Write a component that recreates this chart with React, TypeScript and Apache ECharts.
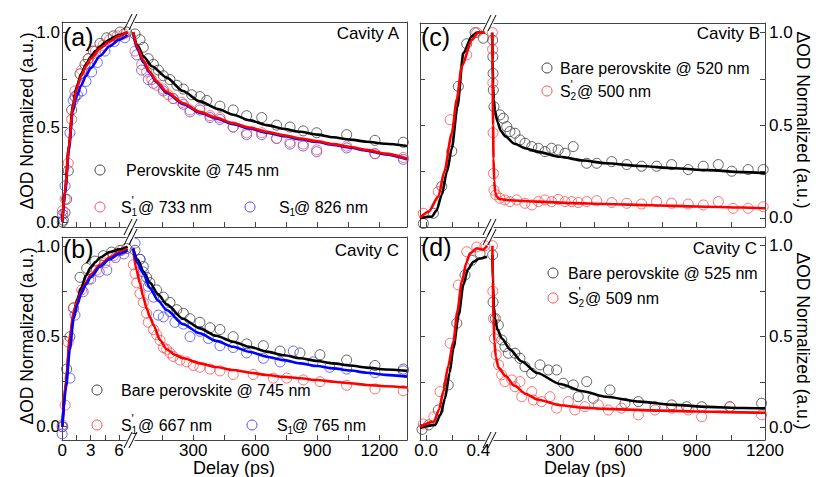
import React, { useEffect, useRef } from "react";
import * as echarts from "echarts";

const FONT = "'Liberation Sans', Arial, Helvetica, sans-serif";

// ---- tick values ----
const yTicks = [0, 0.25, 0.5, 0.75, 1.0];
const yLabels = [0, 0.5, 1.0];
const psRiseTicks = [0, 1.5, 3, 4.5, 6];
const psRiseLabels = [0, 3, 6];
const fsRiseTicks = [0, 0.2, 0.4];
const fsRiseLabels = [0, 0.4];
const decayTicks = [150, 300, 450, 600, 750, 900, 1050, 1200];
const decayLabels = [300, 600, 900, 1200];

// ---- Panel (a) Cavity A ----
const aBlackRise = [[0, 0], [0.11, 0.01], [0.29, 0.05], [0.46, 0.12], [0.63, 0.27], [0.99, 0.59], [1.34, 0.66], [1.87, 0.78], [2.4, 0.83], [2.75, 0.86], [3.27, 0.9], [3.98, 0.94], [4.69, 0.97], [5.39, 0.98], [6.1, 1.0], [6.8, 1.0]];
const aRedRise = [[0.02, 0.06], [0.3, 0.12], [0.63, 0.31], [0.99, 0.54], [1.34, 0.69], [2.05, 0.8], [2.75, 0.86], [3.5, 0.9], [4.3, 0.93], [5.0, 0.96], [5.8, 0.98], [6.5, 0.99]];
const aBlueRise = [[0.02, 0.04], [0.29, 0.19], [0.81, 0.47], [1.16, 0.64], [1.6, 0.67], [2.05, 0.69], [2.5, 0.74], [3.1, 0.79], [3.7, 0.84], [4.5, 0.9], [5.5, 0.95], [6.6, 0.97]];
const aBlackRiseFit = [[0, 0], [0.3, 0.17], [0.7, 0.4], [1.1, 0.61], [1.5, 0.71], [2, 0.78], [2.5, 0.83], [3, 0.87], [3.5, 0.9], [4, 0.925], [4.5, 0.945], [5, 0.96], [5.5, 0.975], [6, 0.985], [6.9, 1.0]];
const aRedRiseFit = [[0, 0], [0.3, 0.17], [0.7, 0.4], [1.1, 0.6], [1.5, 0.7], [2, 0.77], [2.5, 0.82], [3, 0.86], [4, 0.915], [5, 0.95], [6, 0.98], [6.9, 1.0]];
const aBlueRiseFit = [[0, 0], [0.3, 0.15], [0.7, 0.38], [1.1, 0.58], [1.5, 0.66], [2, 0.72], [2.5, 0.77], [3, 0.81], [4, 0.875], [5, 0.925], [6, 0.96], [6.9, 0.985]];
const aBlackDecay = [[18, 0.99], [42, 0.96], [58, 0.92], [82, 0.86], [107, 0.83], [131, 0.8], [155, 0.77], [187, 0.75], [220, 0.72], [252, 0.7], [292, 0.67], [332, 0.66], [365, 0.64], [429, 0.61], [493, 0.59], [558, 0.56], [631, 0.55], [703, 0.51], [768, 0.5], [832, 0.48], [897, 0.47], [1042, 0.46], [1179, 0.43], [1316, 0.42]];
const aRedDecay = [[18, 0.9], [50, 0.83], [74, 0.79], [99, 0.75], [123, 0.72], [155, 0.7], [179, 0.67], [203, 0.65], [244, 0.63], [284, 0.59], [332, 0.6], [381, 0.56], [429, 0.55], [493, 0.5], [558, 0.47], [631, 0.47], [703, 0.44], [768, 0.42], [832, 0.41], [897, 0.38], [1042, 0.4], [1179, 0.36], [1316, 0.34]];
const aBlueDecay = [[26, 0.88], [50, 0.8], [82, 0.75], [107, 0.73], [155, 0.69], [203, 0.65], [252, 0.62], [284, 0.58], [332, 0.59], [381, 0.55], [429, 0.54], [493, 0.5], [558, 0.46], [631, 0.46], [703, 0.44], [768, 0.41], [832, 0.4], [897, 0.37], [1042, 0.39], [1179, 0.36], [1316, 0.33]];
const aBlackDecayFit = [[9, 1.0], [30, 0.93], [60, 0.87], [100, 0.82], [171, 0.76], [250, 0.69], [332, 0.635], [420, 0.595], [493, 0.565], [575, 0.535], [655, 0.51], [740, 0.49], [816, 0.475], [900, 0.46], [977, 0.446], [1060, 0.434], [1138, 0.423], [1230, 0.412], [1334, 0.4]];
const aRedDecayFit = [[9, 1.0], [30, 0.92], [58, 0.85], [90, 0.79], [122, 0.74], [171, 0.686], [252, 0.625], [332, 0.58], [410, 0.55], [493, 0.52], [575, 0.497], [655, 0.475], [740, 0.457], [816, 0.44], [900, 0.425], [977, 0.41], [1060, 0.395], [1138, 0.38], [1230, 0.36], [1334, 0.335]];
const aBlueDecayFit = [[9, 0.99], [30, 0.91], [58, 0.84], [90, 0.785], [122, 0.735], [171, 0.68], [252, 0.62], [332, 0.575], [410, 0.545], [493, 0.515], [575, 0.492], [655, 0.47], [740, 0.452], [816, 0.436], [900, 0.421], [977, 0.406], [1060, 0.391], [1138, 0.376], [1230, 0.356], [1334, 0.33]];

// ---- Panel (b) Cavity C ----
const bBlackRise = [[-0.02, 0.0], [0.46, 0.32], [0.8, 0.5], [1.2, 0.66], [1.87, 0.83], [2.57, 0.88], [3.45, 0.92], [4.33, 0.95], [5.2, 0.97], [6.1, 0.98], [6.8, 0.99]];
const bRedRise = [[0.0, 0.01], [0.3, 0.12], [0.63, 0.47], [1.16, 0.66], [2.05, 0.76], [2.8, 0.82], [3.6, 0.87], [4.5, 0.91], [5.4, 0.95], [6.3, 0.98]];
const bBlueRise = [[-0.02, -0.04], [0.05, 0.0], [0.81, 0.27], [1.34, 0.62], [2.2, 0.75], [3.0, 0.82], [3.9, 0.86], [4.7, 0.87], [5.6, 0.94], [6.5, 0.96]];
const bBlackRiseFit = [[0, 0], [0.4, 0.25], [0.8, 0.48], [1.2, 0.63], [1.6, 0.71], [2, 0.77], [2.5, 0.84], [3, 0.885], [3.5, 0.915], [4, 0.94], [5, 0.97], [6, 0.985], [6.9, 1.0]];
const bRedRiseFit = [[0, 0], [0.4, 0.26], [0.8, 0.5], [1.2, 0.64], [1.6, 0.7], [2, 0.75], [2.5, 0.8], [3, 0.845], [4, 0.9], [5, 0.94], [6, 0.97], [6.9, 0.99]];
const bBlueRiseFit = [[0, 0], [0.4, 0.22], [0.8, 0.43], [1.2, 0.6], [1.6, 0.68], [2, 0.74], [2.5, 0.79], [3, 0.83], [4, 0.89], [5, 0.93], [6, 0.96], [6.9, 0.98]];
const bBlackDecay = [[18, 0.98], [42, 0.93], [58, 0.89], [74, 0.83], [90, 0.8], [122, 0.76], [155, 0.72], [187, 0.69], [220, 0.65], [252, 0.63], [284, 0.6], [332, 0.58], [381, 0.55], [429, 0.54], [493, 0.5], [558, 0.46], [639, 0.45], [720, 0.42], [816, 0.41], [913, 0.4], [1042, 0.37], [1179, 0.34], [1316, 0.32]];
const bBlueDecay = [[18, 1.02], [42, 0.93], [58, 0.86], [82, 0.78], [107, 0.72], [131, 0.62], [155, 0.61], [187, 0.64], [211, 0.58], [252, 0.57], [284, 0.5], [332, 0.53], [373, 0.49], [429, 0.45], [493, 0.44], [558, 0.41], [639, 0.38], [720, 0.36], [784, 0.42], [880, 0.36], [960, 0.33], [1042, 0.32], [1179, 0.3], [1316, 0.31]];
const bRedDecay = [[10, 0.9], [18, 0.85], [26, 0.8], [42, 0.74], [58, 0.69], [74, 0.63], [82, 0.58], [107, 0.54], [123, 0.51], [139, 0.48], [155, 0.44], [171, 0.43], [187, 0.41], [203, 0.39], [236, 0.37], [268, 0.36], [300, 0.34], [332, 0.33], [381, 0.32], [429, 0.31], [493, 0.29], [590, 0.29], [687, 0.27], [752, 0.27], [832, 0.26], [913, 0.25], [1042, 0.23], [1179, 0.21], [1316, 0.2]];
const bBlackDecayFit = [[9, 0.99], [30, 0.93], [60, 0.86], [90, 0.8], [130, 0.735], [171, 0.68], [250, 0.6], [332, 0.546], [410, 0.505], [493, 0.472], [575, 0.443], [655, 0.417], [740, 0.397], [816, 0.38], [900, 0.365], [977, 0.352], [1060, 0.34], [1138, 0.328], [1230, 0.318], [1334, 0.31]];
const bBlueDecayFit = [[9, 0.99], [30, 0.91], [58, 0.852], [90, 0.77], [130, 0.7], [171, 0.648], [250, 0.57], [332, 0.519], [410, 0.477], [493, 0.444], [575, 0.415], [655, 0.389], [740, 0.37], [816, 0.352], [900, 0.337], [977, 0.324], [1060, 0.312], [1138, 0.3], [1230, 0.288], [1334, 0.278]];
const bRedDecayFit = [[9, 0.99], [25, 0.87], [42, 0.796], [58, 0.72], [74, 0.658], [90, 0.61], [107, 0.565], [139, 0.482], [171, 0.43], [210, 0.4], [252, 0.38], [332, 0.352], [410, 0.332], [493, 0.315], [575, 0.3], [655, 0.287], [740, 0.277], [816, 0.269], [900, 0.259], [977, 0.25], [1060, 0.241], [1138, 0.232], [1230, 0.225], [1334, 0.218]];

// ---- Panel (c) Cavity B ----
const cBlackRise = [[-0.02, -0.03], [0.056, 0.025], [0.12, 0.17], [0.197, 0.36], [0.247, 0.71], [0.311, 0.94], [0.375, 1.0], [0.438, 0.97]];
const cRedRise = [[-0.02, 0.025], [0.094, 0.142], [0.184, 0.53], [0.311, 0.88], [0.388, 1.0]];
const cBlackRiseFit = [[-0.046, 0.0], [0.044, 0.007], [0.08, 0.04], [0.12, 0.124], [0.16, 0.25], [0.197, 0.376], [0.24, 0.6], [0.285, 0.889], [0.35, 0.98], [0.388, 1.0], [0.44, 1.0]];
const cRedRiseFit = [[-0.046, 0.0], [0.02, 0.034], [0.094, 0.115], [0.14, 0.25], [0.197, 0.457], [0.235, 0.64], [0.273, 0.817], [0.35, 0.961], [0.4, 1.0], [0.45, 1.0]];
const cBlackDecay = [[4, 0.96], [5, 0.87], [6, 0.78], [7, 0.69], [10, 0.6], [36, 0.556], [51, 0.538], [66, 0.493], [80, 0.466], [102, 0.457], [124, 0.421], [146, 0.403], [176, 0.385], [205, 0.376], [234, 0.358], [263, 0.376], [292, 0.367], [322, 0.349], [358, 0.385], [417, 0.295], [461, 0.295], [527, 0.304], [593, 0.288], [658, 0.279], [724, 0.279], [790, 0.288], [863, 0.261], [929, 0.279], [995, 0.288], [1054, 0.252], [1126, 0.261], [1192, 0.261]];
const cRedDecay = [[3, 1.0], [4, 0.91], [5, 0.73], [6, 0.46], [8, 0.24], [10, 0.15], [18, 0.125], [36, 0.106], [58, 0.097], [80, 0.088], [110, 0.097], [146, 0.079], [176, 0.07], [205, 0.088], [234, 0.097], [263, 0.088], [292, 0.1], [322, 0.088], [351, 0.088], [380, 0.083], [417, 0.088], [461, 0.093], [527, 0.083], [593, 0.079], [658, 0.075], [724, 0.088], [790, 0.079], [863, 0.075], [929, 0.07], [995, 0.088], [1060, 0.052], [1126, 0.052], [1192, 0.06]];
const cBlackDecayFit = [[2, 1.0], [4, 0.85], [6, 0.72], [9, 0.64], [14, 0.58], [25, 0.52], [40, 0.47], [60, 0.44], [100, 0.4], [150, 0.375], [200, 0.358], [300, 0.33], [400, 0.31], [500, 0.295], [650, 0.28], [800, 0.268], [950, 0.258], [1100, 0.247], [1200, 0.241]];
const cRedDecayFit = [[2, 1.0], [4, 0.75], [6, 0.5], [8, 0.32], [11, 0.2], [15, 0.14], [22, 0.115], [35, 0.102], [80, 0.095], [200, 0.088], [350, 0.08], [500, 0.075], [700, 0.068], [900, 0.062], [1100, 0.056], [1200, 0.052]];

// ---- Panel (d) Cavity C ----
const dBlackRise = [[-0.03, -0.01], [0.02, 0.015], [0.094, 0.097], [0.17, 0.235], [0.235, 0.574], [0.298, 0.839], [0.35, 0.92], [0.413, 0.958]];
const dRedRise = [[-0.02, 0.02], [0.06, 0.06], [0.107, 0.198], [0.184, 0.464], [0.247, 0.784], [0.311, 0.967], [0.388, 0.993], [0.45, 1.0]];
const dBlackRiseFit = [[-0.046, 0.0], [0.069, 0.015], [0.11, 0.07], [0.145, 0.16], [0.18, 0.3], [0.209, 0.436], [0.25, 0.62], [0.285, 0.784], [0.32, 0.87], [0.362, 0.912], [0.41, 0.93], [0.465, 0.94]];
const dRedRiseFit = [[-0.046, 0.005], [0.06, 0.033], [0.1, 0.1], [0.132, 0.198], [0.17, 0.34], [0.209, 0.473], [0.24, 0.64], [0.273, 0.802], [0.31, 0.91], [0.336, 0.958], [0.388, 0.986], [0.435, 0.978], [0.465, 1.0]];
const dBlackDecay = [[4, 0.95], [6, 0.69], [16, 0.6], [29, 0.564], [44, 0.482], [58, 0.445], [73, 0.409], [102, 0.409], [124, 0.381], [146, 0.335], [176, 0.299], [212, 0.345], [249, 0.317], [285, 0.317], [314, 0.244], [358, 0.235], [380, 0.17], [417, 0.253], [446, 0.161], [519, 0.207], [585, 0.134], [644, 0.143], [717, 0.115], [790, 0.125], [856, 0.115], [922, 0.115], [1046, 0.115], [1185, 0.134]];
const dRedDecay = [[3, 1.0], [5, 0.75], [8, 0.6], [12, 0.49], [20, 0.4], [30, 0.345], [44, 0.29], [58, 0.253], [88, 0.262], [102, 0.225], [124, 0.253], [132, 0.17], [176, 0.198], [183, 0.152], [219, 0.143], [256, 0.17], [285, 0.107], [336, 0.143], [365, 0.097], [409, 0.115], [468, 0.125], [512, 0.097], [570, 0.107], [644, 0.07], [717, 0.097], [790, 0.107], [863, 0.097], [922, 0.06], [1046, 0.115], [1185, 0.07]];
const dBlackDecayFit = [[3, 0.95], [6, 0.78], [10, 0.66], [15, 0.6], [25, 0.54], [45, 0.49], [80, 0.43], [130, 0.365], [200, 0.3], [300, 0.24], [400, 0.2], [500, 0.17], [650, 0.143], [800, 0.125], [950, 0.114], [1100, 0.108], [1200, 0.106]];
const dRedDecayFit = [[3, 1.0], [5, 0.8], [8, 0.6], [12, 0.47], [18, 0.39], [30, 0.33], [60, 0.285], [100, 0.23], [150, 0.185], [200, 0.155], [300, 0.123], [400, 0.11], [500, 0.103], [700, 0.095], [900, 0.089], [1100, 0.084], [1200, 0.082]];

// ---- styling ----
const AX = "#444444";
const LINE_COL: Record<string, string> = { black: "#000000", red: "#ff0000", blue: "#0000ff" };
const DOT_COL: Record<string, string> = { black: "#3c3c3c", red: "#ff4a4a", blue: "#4646ff" };

type Trace = { c: string; rise: number[][]; decay: number[][]; riseFit: number[][]; decayFit: number[][] };

const panels = [
  {
    top: 22, height: 205, left: 62, lw: 66, rl: 133, rw: 274,
    xL: [-0.03, 6.94], xR: [8.2, 1334], y: [-0.026, 1.053],
    ticksL: psRiseTicks, labelsL: psRiseLabels, fmtL: (v: number) => String(v),
    showX: false, labelsOnLeft: true,
    traces: [
      { c: "black", rise: aBlackRise, decay: aBlackDecay, riseFit: aBlackRiseFit, decayFit: aBlackDecayFit },
      { c: "blue", rise: aBlueRise, decay: aBlueDecay, riseFit: aBlueRiseFit, decayFit: aBlueDecayFit },
      { c: "red", rise: aRedRise, decay: aRedDecay, riseFit: aRedRiseFit, decayFit: aRedDecayFit },
    ] as Trace[],
  },
  {
    top: 237, height: 203, left: 62, lw: 66, rl: 133, rw: 274,
    xL: [-0.03, 6.94], xR: [8.2, 1334], y: [-0.074, 1.054],
    ticksL: psRiseTicks, labelsL: psRiseLabels, fmtL: (v: number) => String(v),
    showX: true, labelsOnLeft: true,
    traces: [
      { c: "black", rise: bBlackRise, decay: bBlackDecay, riseFit: bBlackRiseFit, decayFit: bBlackDecayFit },
      { c: "red", rise: bRedRise, decay: bRedDecay, riseFit: bRedRiseFit, decayFit: bRedDecayFit },
      { c: "blue", rise: bBlueRise, decay: bBlueDecay, riseFit: bBlueRiseFit, decayFit: bBlueDecayFit },
    ] as Trace[],
  },
  {
    top: 23, height: 204, left: 420, lw: 67, rl: 492, rw: 273,
    xL: [-0.046, 0.466], xR: [1.3, 1200], y: [-0.049, 1.052],
    ticksL: fsRiseTicks, labelsL: fsRiseLabels, fmtL: (v: number) => v.toFixed(1),
    showX: false, labelsOnLeft: false,
    traces: [
      { c: "black", rise: cBlackRise, decay: cBlackDecay, riseFit: cBlackRiseFit, decayFit: cBlackDecayFit },
      { c: "red", rise: cRedRise, decay: cRedDecay, riseFit: cRedRiseFit, decayFit: cRedDecayFit },
    ] as Trace[],
  },
  {
    top: 237, height: 203, left: 420, lw: 67, rl: 492, rw: 273,
    xL: [-0.046, 0.466], xR: [1.3, 1200], y: [-0.068, 1.048],
    ticksL: fsRiseTicks, labelsL: fsRiseLabels, fmtL: (v: number) => v.toFixed(1),
    showX: true, labelsOnLeft: false,
    traces: [
      { c: "black", rise: dBlackRise, decay: dBlackDecay, riseFit: dBlackRiseFit, decayFit: dBlackDecayFit },
      { c: "red", rise: dRedRise, decay: dRedDecay, riseFit: dRedRiseFit, decayFit: dRedDecayFit },
    ] as Trace[],
  },
];

const labelStyle = { fontSize: 17, lineHeight: 16, fontFamily: FONT, color: "#000" };

function buildOption() {
  const grid: any[] = [];
  const xAxis: any[] = [];
  const yAxis: any[] = [];
  const series: any[] = [];
  const graphic: any[] = [];

  panels.forEach((p) => {
    const segs = [
      { left: p.left, width: p.lw, x: p.xL, ticks: p.ticksL, labels: p.labelsL, fmt: p.fmtL, side: "left", isRise: true },
      { left: p.rl, width: p.rw, x: p.xR, ticks: decayTicks, labels: decayLabels, fmt: (v: number) => String(v), side: "right", isRise: false },
    ];
    segs.forEach((s) => {
      const g = grid.length;
      grid.push({ left: s.left, top: p.top, width: s.width, height: p.height, containLabel: false });
      const xi = xAxis.length;
      xAxis.push({
        type: "value", gridIndex: g, min: s.x[0], max: s.x[1], position: "bottom",
        axisLine: { show: true, onZero: false, lineStyle: { color: AX, width: 1 } },
        axisTick: { show: true, inside: true, length: 5, customValues: s.ticks, lineStyle: { color: AX } },
        axisLabel: { show: p.showX, customValues: s.labels, formatter: s.fmt, margin: 2, ...labelStyle },
        splitLine: { show: false },
      });
      xAxis.push({
        type: "value", gridIndex: g, min: s.x[0], max: s.x[1], position: "top",
        axisLine: { show: true, onZero: false, lineStyle: { color: AX, width: 1 } },
        axisTick: { show: false }, axisLabel: { show: false }, splitLine: { show: false },
      });
      const yi = yAxis.length;
      const showLabels = (s.side === "left") === p.labelsOnLeft;
      const showTicks = showLabels || !p.labelsOnLeft;
      yAxis.push({
        type: "value", gridIndex: g, min: p.y[0], max: p.y[1], position: s.side,
        axisLine: { show: true, onZero: false, lineStyle: { color: AX, width: 1 } },
        axisTick: { show: showTicks, inside: true, length: 5, customValues: yTicks, lineStyle: { color: AX } },
        axisLabel: { show: showLabels, customValues: yLabels, formatter: (v: number) => v.toFixed(1), margin: s.side === "left" ? 2 : 4, ...labelStyle },
        splitLine: { show: false },
      });
      p.traces.forEach((t) => {
        series.push({
          type: "scatter", xAxisIndex: xi, yAxisIndex: yi,
          data: s.isRise ? t.rise : t.decay,
          symbol: "circle", symbolSize: 10, silent: true, z: 2,
          itemStyle: { color: "rgba(255,255,255,0)", borderColor: DOT_COL[t.c], borderWidth: 1 },
        });
      });
      p.traces.forEach((t) => {
        series.push({
          type: "line", xAxisIndex: xi, yAxisIndex: yi,
          data: s.isRise ? t.riseFit : t.decayFit,
          symbol: "none", showSymbol: false, silent: true, z: 3,
          smooth: 0.25, smoothMonotone: "x",
          lineStyle: { color: LINE_COL[t.c], width: 2.6 },
        });
      });
    });

    // break marks at top and bottom
    const bx = (p.left + p.lw + p.rl) / 2;
    [p.top, p.top + p.height].forEach((yy) => {
      graphic.push({ type: "rect", shape: { x: bx - 4, y: yy - 2, width: 8, height: 4 }, style: { fill: "#fff" }, z: 50 });
      [-2.5, 2.5].forEach((dx) => {
        graphic.push({
          type: "line", z: 51,
          shape: { x1: bx + dx - 4, y1: yy + 8, x2: bx + dx + 4, y2: yy - 8 },
          style: { stroke: "#000", lineWidth: 1 },
        });
      });
    });
  });

  const txt = (x: number, y: number, text: string, size: number, align = "left", extra: any = {}) => ({
    type: "text", x, y, z: 60, ...extra,
    style: { text, fontSize: size, lineHeight: size, fontFamily: FONT, fill: "#000", align, verticalAlign: "middle" },
  });
  const dot = (cx: number, cy: number, c: string) => ({
    type: "circle", z: 60, shape: { cx, cy, r: 5 }, style: { fill: "none", stroke: DOT_COL[c], lineWidth: 1 },
  });
  const sLabel = (x: number, y: number, sub: string, prime: boolean, rest: string) => [
    txt(x, y, "S", 16),
    txt(x + 10.5, y + 5, sub, 10),
    ...(prime ? [txt(x + 10.5, y - 6, "'", 12)] : []),
    txt(x + (prime ? 17 : 15), y, rest, 16),
  ];

  // panel letters & cavity labels
  graphic.push(txt(63, 37, "(a)", 25), txt(63, 249, "(b)", 25), txt(421, 37, "(c)", 25), txt(421, 247, "(d)", 25));
  graphic.push(txt(399, 33, "Cavity A", 17, "right"), txt(399, 250, "Cavity C", 17, "right"));
  graphic.push(txt(760, 33, "Cavity B", 17, "right"), txt(757, 248, "Cavity C", 17, "right"));

  // legends
  graphic.push(dot(100, 170, "black"), txt(126, 170, "Perovskite @ 745 nm", 16));
  graphic.push(dot(100, 207, "red"), ...sLabel(121, 207, "1", true, "@ 733 nm"));
  graphic.push(dot(250, 207, "blue"), ...sLabel(279, 207, "1", false, "@ 826 nm"));

  graphic.push(dot(97, 390, "black"), txt(121, 390, "Bare perovskite @ 745 nm", 16));
  graphic.push(dot(97, 425, "red"), ...sLabel(121, 425, "1", true, "@ 667 nm"));
  graphic.push(dot(252, 425, "blue"), ...sLabel(277, 425, "1", false, "@ 765 nm"));

  graphic.push(dot(547, 68, "black"), txt(560, 68, "Bare perovskite @ 520 nm", 16));
  graphic.push(dot(547, 91, "red"), ...sLabel(560, 91, "2", true, "@ 500 nm"));

  graphic.push(dot(553, 273, "black"), txt(568, 273, "Bare perovskite @ 525 nm", 16));
  graphic.push(dot(553, 298, "red"), ...sLabel(568, 298, "2", true, "@ 509 nm"));

  // axis titles
  graphic.push(txt(234, 468, "Delay (ps)", 18, "center"), txt(585, 468, "Delay (ps)", 18, "center"));
  graphic.push(txt(27, 121, "ΔOD Normalized (a.u.)", 17.5, "center", { rotation: Math.PI / 2 }));
  graphic.push(txt(27, 336, "ΔOD Normalized (a.u.)", 17.5, "center", { rotation: Math.PI / 2 }));
  graphic.push(txt(803, 120, "ΔOD Normalized (a.u.)", 17.5, "center", { rotation: -Math.PI / 2 }));
  graphic.push(txt(803, 341, "ΔOD Normalized (a.u.)", 17.5, "center", { rotation: -Math.PI / 2 }));

  return {
    animation: false,
    backgroundColor: "#ffffff",
    grid, xAxis, yAxis, series, graphic,
  };
}

export default function App() {
  const ref = useRef<HTMLDivElement>(null);
  useEffect(() => {
    if (!ref.current) return;
    const chart = echarts.init(ref.current, null, { renderer: "svg" });
    chart.setOption(buildOption() as any);
    return () => chart.dispose();
  }, []);
  return (
    <div
      ref={ref}
      style={{ position: "absolute", left: 0, top: 0, width: 816, height: 477, background: "#fff" }}
    />
  );
}
